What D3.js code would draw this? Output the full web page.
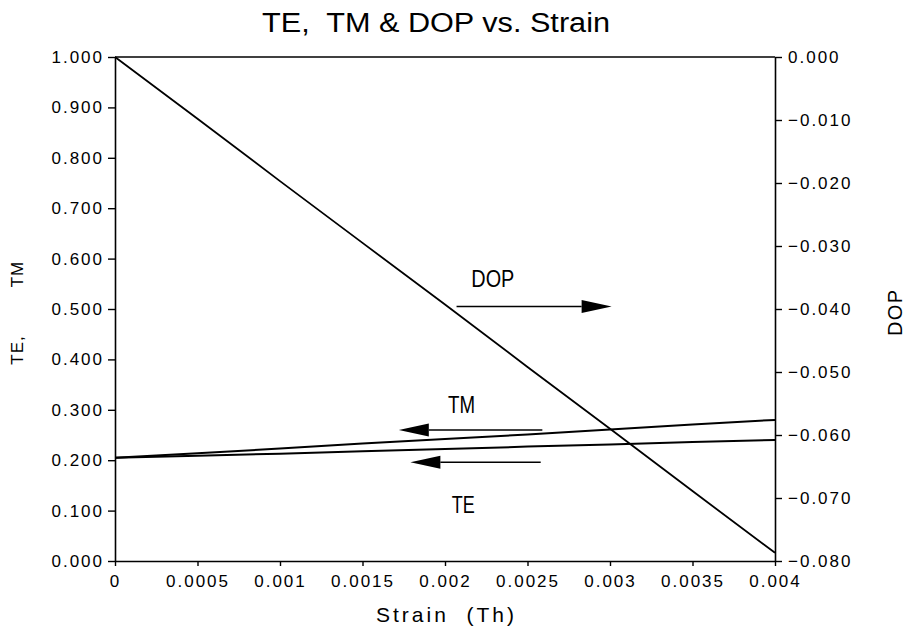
<!DOCTYPE html>
<html lang="en">
<head>
    <meta charset="UTF-8">
    <title>TE, TM & DOP vs. Strain</title>
    <script src="https://cdn.jsdelivr.net/npm/d3@7"></script>
    <style>
        body { margin: 0; background: #fff; }
        #chart { width: 906px; height: 630px; }
        text { fill: #000; }
    </style>
</head>
<body>
<div id="chart"></div>
<script>
    // strain values (x)
    var strain = [0, 0.0005, 0.001, 0.0015, 0.002, 0.0025, 0.003, 0.0035, 0.004];
    // left axis series
    var teValues = [0.205, 0.209, 0.213, 0.218, 0.222, 0.227, 0.231, 0.236, 0.240];
    var tmValues = [0.205, 0.214, 0.223, 0.233, 0.242, 0.251, 0.261, 0.271, 0.280];
    // right axis series
    var dopValues = [0, -0.0098, -0.0197, -0.0295, -0.0393, -0.0492, -0.0590, -0.0689, -0.0787];

    var xTicks = [0, 0.0005, 0.001, 0.0015, 0.002, 0.0025, 0.003, 0.0035, 0.004];
    var xTickLabels = ["0", "0.0005", "0.001", "0.0015", "0.002", "0.0025", "0.003", "0.0035", "0.004"];
    var leftTicks = [0, 0.1, 0.2, 0.3, 0.4, 0.5, 0.6, 0.7, 0.8, 0.9, 1.0];
    var rightTicks = [0, -0.01, -0.02, -0.03, -0.04, -0.05, -0.06, -0.07, -0.08];

    // arrows: from tail to tip, in data units (left axis y)
    var arrowNames = ["DOP", "TM", "TE"];
    var arrowTail = [0.00207, 0.00259, 0.00258];
    var arrowTip = [0.00301, 0.00172, 0.00179];
    var arrowY = [0.505, 0.26, 0.196];
    var labelX = [0.00229, 0.0021, 0.00211];
    var labelY = [0.544, 0.294, 0.095];

    var drawChart = function (divname) {
        var W = 906, H = 630;
        var mLeft = 115, mRight = 775, mTop = 57, mBottom = 561;

        var svg = d3.select("#" + divname).append("svg")
            .attr("width", W)
            .attr("height", H)
            .style("font-family", "'Liberation Sans', Arial, sans-serif");

        var x = d3.scaleLinear().domain([0, 0.004]).range([mLeft, mRight]);
        var yL = d3.scaleLinear().domain([0, 1]).range([mBottom, mTop]);
        var yR = d3.scaleLinear().domain([-0.08, 0]).range([mBottom, mTop]);

        // axes
        var gx = svg.append("g")
            .attr("transform", "translate(0," + mBottom + ")")
            .call(d3.axisBottom(x).tickValues(xTicks).tickSize(5).tickSizeOuter(0).tickPadding(9)
                .tickFormat(function (d, i) { return xTickLabels[i]; }));
        var gl = svg.append("g")
            .attr("transform", "translate(" + mLeft + ",0)")
            .call(d3.axisLeft(yL).tickValues(leftTicks).tickSize(7).tickSizeOuter(0).tickPadding(4)
                .tickFormat(d3.format(".3f")));
        var gr = svg.append("g")
            .attr("transform", "translate(" + mRight + ",0)")
            .call(d3.axisRight(yR).tickValues(rightTicks).tickSize(7).tickSizeOuter(0).tickPadding(6)
                .tickFormat(d3.format(".3f")));

        [gx, gl, gr].forEach(function (g) {
            g.select(".domain").attr("stroke", "#000").attr("stroke-width", 1.6);
            g.selectAll(".tick line").attr("stroke", "#000").attr("stroke-width", 1.4);
            g.selectAll(".tick text")
                .attr("font-size", 17)
                .attr("letter-spacing", "2px")
                .attr("font-family", "'Liberation Sans', Arial, sans-serif");
        });

        // top frame line
        svg.append("line")
            .attr("x1", mLeft).attr("x2", mRight)
            .attr("y1", mTop).attr("y2", mTop)
            .attr("stroke", "#000").attr("stroke-width", 1.6);

        // data lines
        var lineL = d3.line()
            .x(function (d, i) { return x(strain[i]); })
            .y(function (d) { return yL(d); });
        var lineR = d3.line()
            .x(function (d, i) { return x(strain[i]); })
            .y(function (d) { return yR(d); });

        svg.append("path").attr("d", lineL(teValues))
            .attr("fill", "none").attr("stroke", "#000").attr("stroke-width", 2);
        svg.append("path").attr("d", lineL(tmValues))
            .attr("fill", "none").attr("stroke", "#000").attr("stroke-width", 2);
        svg.append("path").attr("d", lineR(dopValues))
            .attr("fill", "none").attr("stroke", "#000").attr("stroke-width", 1.8);

        // arrows
        var headLen = 30, headHalf = 6.5;
        arrowNames.forEach(function (name, i) {
            var x1 = x(arrowTail[i]), x2 = x(arrowTip[i]), yy = yL(arrowY[i]);
            var dir = x2 > x1 ? 1 : -1;
            var xb = x2 - dir * headLen;
            svg.append("line")
                .attr("x1", x1).attr("x2", xb)
                .attr("y1", yy).attr("y2", yy)
                .attr("stroke", "#000").attr("stroke-width", 1.6);
            svg.append("path")
                .attr("d", "M" + x2 + "," + yy + "L" + xb + "," + (yy - headHalf) + "L" + xb + "," + (yy + headHalf) + "Z")
                .attr("fill", "#000");
        });

        // in-plot labels
        var labelLen = [43, 27, 23];
        arrowNames.forEach(function (name, i) {
            svg.append("text")
                .attr("x", x(labelX[i]))
                .attr("y", yL(labelY[i]))
                .attr("text-anchor", "middle")
                .attr("font-size", 24)
                .attr("font-family", "'Liberation Sans Narrow', 'Liberation Sans', sans-serif")
                .attr("textLength", labelLen[i])
                .attr("lengthAdjust", "spacingAndGlyphs")
                .text(name);
        });

        // title
        svg.append("text")
            .attr("x", 436)
            .attr("y", 32)
            .attr("text-anchor", "middle")
            .attr("font-size", 27)
            .attr("textLength", 348)
            .attr("lengthAdjust", "spacingAndGlyphs")
            .style("white-space", "pre")
            .text("TE,  TM & DOP vs. Strain");

        // x axis title
        svg.append("text")
            .attr("x", (mLeft + mRight) / 2)
            .attr("y", 622)
            .attr("text-anchor", "middle")
            .attr("font-size", 21)
            .attr("textLength", 138)
            .attr("lengthAdjust", "spacing")
            .style("white-space", "pre")
            .text("Strain  (Th)");

        // left y axis title, two words set apart
        svg.append("text")
            .attr("transform", "translate(23,350) rotate(-90)")
            .attr("text-anchor", "middle")
            .attr("font-size", 17)
            .attr("letter-spacing", "1px")
            .text("TE,");
        svg.append("text")
            .attr("transform", "translate(23,274) rotate(-90)")
            .attr("text-anchor", "middle")
            .attr("font-size", 17)
            .attr("letter-spacing", "1px")
            .text("TM");

        // right y axis title
        svg.append("text")
            .attr("transform", "translate(902,313) rotate(-90)")
            .attr("text-anchor", "middle")
            .attr("font-size", 20)
            .attr("textLength", 46)
            .attr("lengthAdjust", "spacing")
            .text("DOP");
    };
    drawChart("chart");
</script>
</body>
</html>
